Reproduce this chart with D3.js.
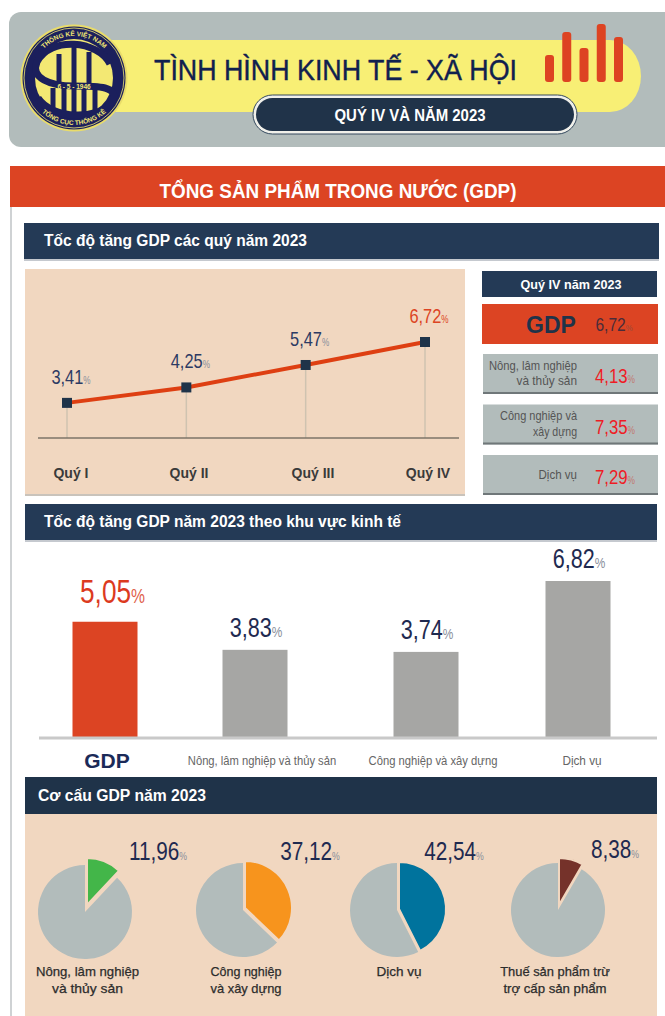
<!DOCTYPE html>
<html>
<head>
<meta charset="utf-8">
<script src="https://cdn.jsdelivr.net/npm/d3@7"></script>
<style>
  html, body { margin: 0; padding: 0; background: #fff; }
  svg { display: block; }
  text { font-family: "Liberation Sans", Arial, sans-serif; }
</style>
</head>
<body>
<div id="chart"></div>
<script>
//data
const quarters = ['Quý I', 'Quý II', 'Quý III', 'Quý IV'];
const quarterValues = [3.41, 4.25, 5.47, 6.72];

const sectorNames = ['Nông, lâm nghiệp\nvà thủy sản', 'Công nghiệp và\nxây dựng', 'Dịch vụ'];
const sectorQ4Values = [4.13, 7.35, 7.29];
const gdpQ4 = 6.72;

const yearCategories = ['GDP', 'Nông, lâm nghiệp và thủy sản', 'Công nghiệp và xây dựng', 'Dịch vụ'];
const yearValues = [5.05, 3.83, 3.74, 6.82];

const shareNames = ['Nông, lâm nghiệp\nvà thủy sản', 'Công nghiệp\nvà xây dựng', 'Dịch vụ', 'Thuế sản phẩm trừ\ntrợ cấp sản phẩm'];
const shareValues = [11.96, 37.12, 42.54, 8.38];
const shareColors = ['#43b649', '#f7941d', '#00739d', '#75322a'];

const bannerBars = [27, 50, 34, 58, 45];

const navy = '#243a56';
const red = '#dc4423';
const beige = '#f1d7c0';
const grey = '#b2bcbb';

const fmt = v => v.toFixed(2).replace('.', ',');

const svg = d3.select('#chart').append('svg')
  .attr('width', 665)
  .attr('height', 1016);

//text helper, width squeezes the glyphs to the narrow look of the original
function label(parent, x, y, str, opt = {}) {
  const t = parent.append('text')
    .attr('x', x)
    .attr('y', y)
    .attr('text-anchor', opt.anchor || 'start')
    .attr('font-size', opt.size || 12)
    .attr('font-weight', opt.weight || 'normal')
    .attr('fill', opt.fill || '#222')
    .text(str);
  if (opt.width) t.attr('textLength', opt.width).attr('lengthAdjust', 'spacingAndGlyphs');
  if (opt.stroke) t.attr('stroke', opt.fill).attr('stroke-width', opt.stroke);
  return t;
}

//value with the small percent sign behind it, squeezed with a scale so the box stays right
function percent(parent, x, y, v, size, fill, pctFill, squeeze, pctRatio) {
  const t = parent.append('text')
    .attr('transform', `translate(${x},${y}) scale(${squeeze},1)`)
    .attr('text-anchor', 'middle')
    .attr('fill', fill);
  t.append('tspan')
    .attr('font-size', size)
    .text(fmt(v));
  t.append('tspan')
    .attr('font-size', size * pctRatio)
    .attr('fill', pctFill)
    .text('%');
  return t;
}

function rect(parent, x, y, w, h, fill, r) {
  return parent.append('rect')
    .attr('x', x).attr('y', y)
    .attr('width', w).attr('height', h)
    .attr('rx', r || 0)
    .attr('fill', fill);
}

//-------- banner
const banner = svg.append('g').attr('id', 'banner');
rect(banner, 9, 12, 670, 135, grey, 12);
banner.append('path')
  .attr('d', 'M110,40H610a31,36 0 0 1 0,72H110Z')
  .attr('fill', '#f8ef75');

//logo
const logoNavy = '#1b1f5c';
const logoYellow = '#f3e873';
const logo = banner.append('g').attr('transform', 'translate(74,78)');
logo.append('circle').attr('r', 53.5).attr('fill', '#e9dc6a');
logo.append('circle').attr('r', 51.5).attr('fill', logoNavy);
logo.append('circle').attr('r', 50).attr('fill', 'none').attr('stroke', logoYellow).attr('stroke-width', 0.8);
logo.append('circle').attr('r', 39).attr('fill', logoYellow);
const defs = svg.append('defs');
defs.append('path').attr('id', 'logoTop').attr('d', 'M-42,0A42,42 0 0 1 42,0');
defs.append('path').attr('id', 'logoBottom').attr('d', 'M-47,0A47,47 0 0 0 47,0');
//the bars of the logo
[[-15, -24, 30], [0, -33, 39], [15, -26, 32], [-21, 10, 24], [-10, 10, 29], [0, 10, 30], [10, 10, 29], [21, 10, 24]].forEach(d => {
  rect(logo, d[0] - 2.5, d[1], 5, d[2], logoNavy);
});
//the big S
logo.append('path')
  .attr('d', 'M36,-14C24,-38 -24,-42 -37,-16C-44,0 -24,8 0,8C24,8 46,8 38,24C26,42 -22,42 -36,20')
  .attr('fill', 'none').attr('stroke', logoNavy).attr('stroke-width', 7);
//ring texts go after the S so it does not cover them
logo.append('text').attr('font-size', 6.5).attr('font-weight', 'bold').attr('fill', logoYellow)
  .attr('text-anchor', 'middle')
  .append('textPath').attr('href', '#logoTop').attr('startOffset', '50%').text('THỐNG KÊ VIỆT NAM');
logo.append('text').attr('font-size', 6.5).attr('font-weight', 'bold').attr('fill', logoYellow)
  .attr('text-anchor', 'middle')
  .append('textPath').attr('href', '#logoBottom').attr('startOffset', '50%').text('TỔNG CỤC THỐNG KÊ');
label(logo, 0, 10.5, '6 - 5 - 1946', { anchor: 'middle', size: 6.5, weight: 'bold', fill: logoYellow });

label(banner, 154, 80, 'TÌNH HÌNH KINH TẾ - XÃ HỘI', { size: 29, fill: '#10204f', width: 363, stroke: 0.4 });

//pill with the double outline
banner.append('rect').attr('x', 253).attr('y', 95).attr('width', 324).attr('height', 39).attr('rx', 19.5)
  .attr('fill', '#f0f0ea').attr('stroke', '#34495e').attr('stroke-width', 1);
banner.append('rect').attr('x', 256).attr('y', 98).attr('width', 318).attr('height', 33).attr('rx', 16.5)
  .attr('fill', '#203349');
label(banner, 410, 121, 'QUÝ IV VÀ NĂM 2023', { anchor: 'middle', size: 16, weight: 'bold', fill: '#fff', width: 151 });

//bars in the banner are only decoration but keep the reference heights
const bannerX = d3.scalePoint().domain(d3.range(bannerBars.length)).range([549.5, 618.5]);
const bannerY = d3.scaleLinear().domain([0, 58]).range([82, 24]);
banner.selectAll('.bannerBar')
  .data(bannerBars)
  .join('rect')
  .attr('class', 'bannerBar')
  .attr('x', (d, i) => bannerX(i) - 4.5)
  .attr('y', d => bannerY(d))
  .attr('width', 9)
  .attr('height', d => bannerY(0) - bannerY(d))
  .attr('rx', 3)
  .attr('fill', '#dd4322');

//-------- section frame
rect(svg, 10, 207, 2, 809, '#cfd2d4');
rect(svg, 10, 166, 655, 41, red);
label(svg, 338, 198, 'TỔNG SẢN PHẨM TRONG NƯỚC (GDP)', { anchor: 'middle', size: 21, weight: 'bold', fill: '#fff', width: 357 });

function sectionBar(y, h, x, w, str, fill, tx, size, tw) {
  rect(svg, x, y + h, w, 2, '#c5c9cf');
  rect(svg, x, y, w, h, fill);
  label(svg, tx, y + h / 2 + 5, str, { size: size, weight: 'bold', fill: '#fff', width: tw });
}

//-------- quarterly line chart
sectionBar(223, 36, 24, 635, 'Tốc độ tăng GDP các quý năm 2023', navy, 44, 16, 263);

rect(svg, 25, 494, 440, 2, '#c9c3bb');
rect(svg, 25, 269, 440, 225, beige);

const lineX = d3.scalePoint().domain(quarters).range([67, 425]);
const lineY = d3.scaleLinear().domain([1.5, 6.72]).range([438, 342]);
const quarterLabelX = d3.scaleOrdinal().domain(quarters).range([71, 189, 313, 428]);

const lineChart = svg.append('g').attr('id', 'lineChart');

lineChart.selectAll('.drop')
  .data(quarters)
  .join('line')
  .attr('class', 'drop')
  .attr('x1', d => lineX(d))
  .attr('x2', d => lineX(d))
  .attr('y1', (d, i) => lineY(quarterValues[i]))
  .attr('y2', lineY(1.5))
  .attr('stroke', '#cfc3b0')
  .attr('stroke-width', 1.5);

lineChart.append('line')
  .attr('x1', 38).attr('x2', 459)
  .attr('y1', lineY(1.5)).attr('y2', lineY(1.5))
  .attr('stroke', '#7c7468')
  .attr('stroke-width', 1.5);

lineChart.append('path')
  .datum(quarterValues)
  .attr('d', d3.line().x((d, i) => lineX(quarters[i])).y(d => lineY(d)))
  .attr('fill', 'none')
  .attr('stroke', '#de3f12')
  .attr('stroke-width', 4);

lineChart.selectAll('.point')
  .data(quarterValues)
  .join('rect')
  .attr('class', 'point')
  .attr('x', (d, i) => lineX(quarters[i]) - 5)
  .attr('y', d => lineY(d) - 5)
  .attr('width', 10)
  .attr('height', 10)
  .attr('fill', '#1f3349');

quarterValues.forEach((v, i) => {
  const last = i == quarters.length - 1;
  percent(lineChart, lineX(quarters[i]) + 4, lineY(v) - 19, v, 20, last ? '#dc4423' : '#2c3a63', last ? '#dc4423' : '#8a8f9c', 0.82, 0.5);
  label(lineChart, quarterLabelX(quarters[i]), 478, quarters[i], { anchor: 'middle', size: 14, weight: 'bold', fill: '#3a3a3a' });
});

//-------- Q4 side panel
const side = svg.append('g').attr('id', 'sidePanel');
rect(side, 482, 271, 175, 26, navy);
label(side, 571, 289, 'Quý IV năm 2023', { anchor: 'middle', size: 13, weight: 'bold', fill: '#fff', width: 101 });

rect(side, 482, 304, 176, 40, red);
label(side, 551, 333, 'GDP', { anchor: 'middle', size: 23, weight: 'bold', fill: '#1f3349' });
percent(side, 614, 331, gdpQ4, 19, '#4a2c3a', '#9a4a3a', 0.82, 0.5);

const boxY = d3.scaleBand().domain(sectorNames).range([354, 495]).paddingInner(0.208);
sectorNames.forEach((name, i) => {
  const y = boxY(name);
  rect(side, 483, y, 175, boxY.bandwidth(), grey);
  rect(side, 483, y + boxY.bandwidth() - 2, 175, 2, '#6f7779');
  const lines = name.split('\n');
  lines.forEach((s, j) => {
    const ty = y + boxY.bandwidth() / 2 + 3.5 + (j - (lines.length - 1) / 2) * 15.5;
    label(side, 577, ty, s, { anchor: 'end', size: 13, fill: '#555', width: s.length * 5.5 });
  });
  percent(side, 615, y + boxY.bandwidth() / 2 + 9, sectorQ4Values[i], 21, '#ee1c25', '#c07a70', 0.8, 0.5);
});

//-------- bar chart by sector
sectionBar(504, 36, 25, 632, 'Tốc độ tăng GDP năm 2023 theo khu vực kinh tế', navy, 44, 16, 357);

//bars are not evenly spaced in the original so this is ordinal and not band
const barX = d3.scaleOrdinal().domain(yearCategories).range([105, 255, 426, 578]);
const barY = d3.scaleLinear().domain([0, 6.82]).range([738, 581]);

const barChart = svg.append('g').attr('id', 'barChart');

barChart.selectAll('.bar')
  .data(yearValues)
  .join('rect')
  .attr('class', 'bar')
  .attr('x', (d, i) => barX(yearCategories[i]) - 32.5)
  .attr('y', d => barY(d))
  .attr('width', 65)
  .attr('height', d => barY(0) - barY(d))
  .attr('fill', (d, i) => i == 0 ? red : '#a6a6a4');

barChart.append('line')
  .attr('x1', 39).attr('x2', 657)
  .attr('y1', barY(0)).attr('y2', barY(0))
  .attr('stroke', '#c9c9c9')
  .attr('stroke-width', 3);

yearValues.forEach((v, i) => {
  const c = yearCategories[i];
  if (i == 0) {
    percent(barChart, barX(c) + 7.5, barY(v) - 19, v, 34, '#dc3a1e', '#e0604a', 0.77, 0.6);
    label(barChart, 107, 768, c, { anchor: 'middle', size: 21, weight: 'bold', fill: '#1b2a58' });
  } else {
    percent(barChart, barX(c) + 1, barY(v) - 13, v, 27, '#1f2a50', '#8a8f9c', 0.8, 0.55);
    label(barChart, barX(c) + (i == 3 ? 4 : 7), 765, c, { anchor: 'middle', size: 12, fill: '#666', width: c.length * (i == 1 ? 5.3 : 5.6) });
  }
});

//-------- share pies
sectionBar(777, 37, 25, 632, 'Cơ cấu GDP năm 2023', '#1f3349', 38, 16, 168);

rect(svg, 25, 814, 632, 202, beige);

const pieX = d3.scaleOrdinal().domain(shareNames).range([85, 243, 397, 558]);
const pieY = d3.scaleOrdinal().domain(shareNames).range([912, 910, 910, 910]);
const pieValueX = d3.scaleOrdinal().domain(shareNames).range([158, 310, 454, 615]);
const pieTextX = d3.scaleOrdinal().domain(shareNames).range([87.5, 246, 399, 555]);
const pieOffset = [[2, -7], [2, -2], [2, -1], [1, -5]];
const arc = d3.arc().innerRadius(0).outerRadius(47);
const pie = d3.pie().sort(null);

const pies = svg.append('g').attr('id', 'pies');

shareValues.forEach((v, i) => {
  const name = shareNames[i];
  const g = pies.append('g').attr('transform', `translate(${pieX(name)},${pieY(name)})`);
  const slices = pie([v, 100 - v]);
  g.append('path').attr('d', arc(slices[1])).attr('fill', grey);
  g.append('path')
    .attr('d', arc(slices[0]))
    .attr('transform', `translate(${pieOffset[i][0]},${pieOffset[i][1]})`)
    .attr('fill', shareColors[i])
    .attr('stroke', beige)
    .attr('stroke-width', 2);
  percent(pies, pieValueX(name), i == 3 ? 858 : 860, v, 25, '#1f2a50', '#8a8f9c', 0.83, 0.42);
  name.split('\n').forEach((s, j) => {
    label(pies, pieTextX(name), 976 + j * 17, s, { anchor: 'middle', size: 13, fill: '#2c2c2c', width: s.length * 6.45, stroke: 0.25 });
  });
});
</script>
</body>
</html>
